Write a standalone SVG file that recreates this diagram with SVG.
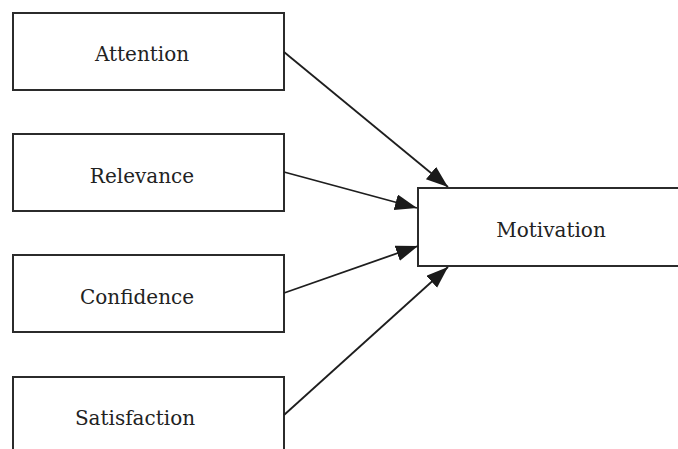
<svg xmlns="http://www.w3.org/2000/svg" width="678" height="449" viewBox="0 0 678 449">
<style>
.box{fill:#fff;stroke:#2b2b2b;stroke-width:2}
.lbl{font-family:'DejaVu Serif','Liberation Serif',serif;font-size:20px;fill:#222;text-anchor:middle}
.con{stroke:#1e1e1e;stroke-width:1.8;fill:none}
</style>
<defs>
<marker id="ah" markerUnits="userSpaceOnUse" markerWidth="24" markerHeight="18" refX="22" refY="8" orient="auto">
<path d="M0,0 L22,8 L0,16 Z" fill="#1a1a1a"/>
</marker>
</defs>
<rect width="678" height="449" fill="#fff"/>
<g id="attention"><rect class="box" x="13" y="13" width="271" height="77"/><text class="lbl" x="142" y="61">Attention</text></g>
<g id="relevance"><rect class="box" x="13" y="134" width="271" height="77"/><text class="lbl" x="142" y="183">Relevance</text></g>
<g id="confidence"><rect class="box" x="13" y="255" width="271" height="77"/><text class="lbl" x="137" y="304">Confidence</text></g>
<g id="satisfaction"><rect class="box" x="13" y="377" width="271" height="80"/><text class="lbl" x="135" y="425">Satisfaction</text></g>
<g id="motivation"><rect class="box" x="418" y="188" width="270" height="78"/><text class="lbl" x="551" y="237">Motivation</text></g>
<g id="connectors">
<line class="con" x1="284" y1="52" x2="448" y2="187" marker-end="url(#ah)"/>
<line class="con" x1="284" y1="172" x2="417" y2="208" marker-end="url(#ah)"/>
<line class="con" x1="284" y1="293" x2="418" y2="246" marker-end="url(#ah)"/>
<line class="con" x1="284" y1="415" x2="448" y2="267" marker-end="url(#ah)"/>
</g>
</svg>
